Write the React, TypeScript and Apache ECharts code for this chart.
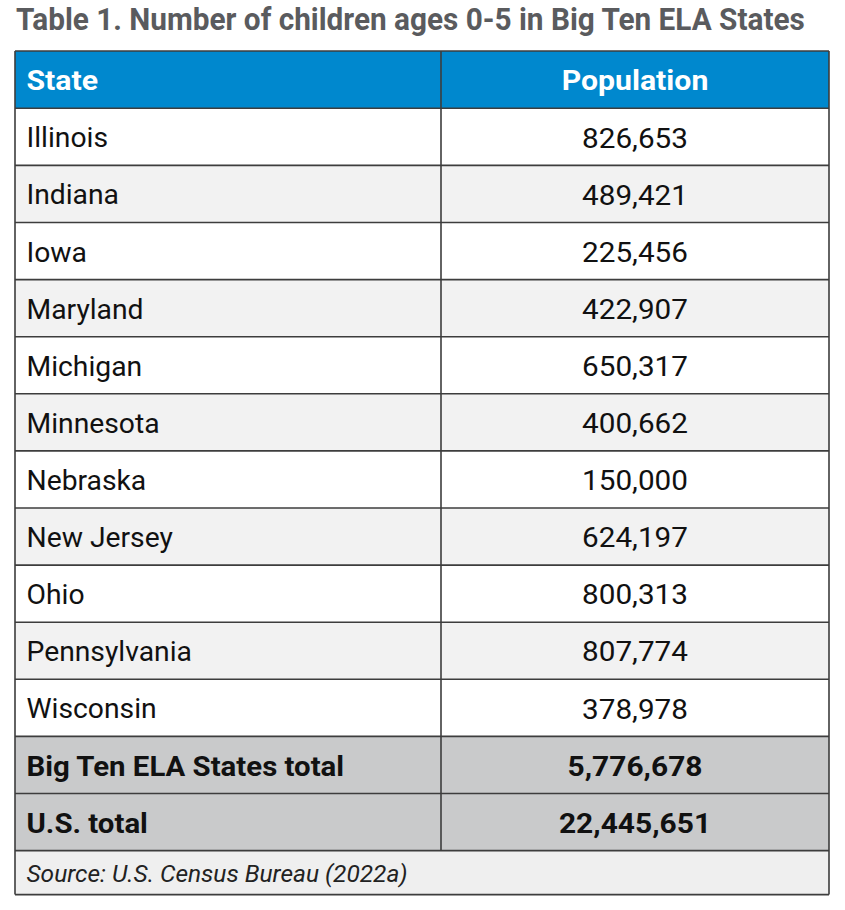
import React, { useEffect, useRef } from "react";
import * as echarts from "echarts";

const TITLE = "Table 1. Number of children ages 0-5 in Big Ten ELA States";
const HEADERS = ["State", "Population"];
const STATES = [
  "Illinois",
  "Indiana",
  "Iowa",
  "Maryland",
  "Michigan",
  "Minnesota",
  "Nebraska",
  "New Jersey",
  "Ohio",
  "Pennsylvania",
  "Wisconsin",
];
const POPULATIONS = [826653, 489421, 225456, 422907, 650317, 400662, 150000, 624197, 800313, 807774, 378978];
const TOTAL_LABELS = ["Big Ten ELA States total", "U.S. total"];
const TOTAL_VALUES = [5776678, 22445651];
const SOURCE = "Source: U.S. Census Bureau (2022a)";

const fmt = (v: number) => v.toLocaleString("en-US");

function measure(text: string, font: string): number {
  try {
    const c = document.createElement("canvas");
    const ctx = c.getContext("2d");
    if (!ctx) return 0;
    ctx.font = font;
    return ctx.measureText(text).width;
  } catch (e) {
    return 0;
  }
}

export default function App() {
  const ref = useRef<HTMLDivElement>(null);

  useEffect(() => {
    document.body.style.margin = "0";
    if (!ref.current) return;
    const chart = echarts.init(ref.current, undefined, { renderer: "svg" });

    const L = 15;
    const R = 829;
    const MID = 441;
    const TOP = 51;
    const HEAD_H = 57.3;
    const ROW_H = 57.1;
    const SRC_H = 44;
    const padX = 11.5;
    const colC = (MID + R) / 2;
    const font = "Roboto";
    const border = "#3d3d3d";
    const bw = 1.6;

    const elements: any[] = [];

    // title (condensed bold look: Roboto bold squeezed horizontally)
    const titleSize = 31;
    const titleW = measure(TITLE, `bold ${titleSize}px Roboto`);
    const titleTarget = 790;
    const titleScale = titleW > 0 ? titleTarget / titleW : 0.84;
    elements.push({
      type: "text",
      x: L + 1,
      y: 19,
      scaleX: titleScale,
      style: {
        text: TITLE,
        fontFamily: font,
        fontWeight: "bold",
        fontSize: titleSize,
        fill: "#5a5b5e",
        align: "left",
        verticalAlign: "middle",
      },
    });

    // header background
    elements.push({
      type: "rect",
      shape: { x: L, y: TOP, width: R - L, height: HEAD_H },
      style: { fill: "#0088ce" },
    });
    const headY = TOP + HEAD_H / 2 + 0.5;
    elements.push({
      type: "text",
      x: L + padX,
      y: headY,
      scaleX: 1.12,
      style: { text: HEADERS[0], fontFamily: font, fontWeight: "bold", fontSize: 27, fill: "#ffffff", align: "left", verticalAlign: "middle" },
    });
    elements.push({
      type: "text",
      x: colC,
      y: headY,
      scaleX: 1.12,
      style: { text: HEADERS[1], fontFamily: font, fontWeight: "bold", fontSize: 27, fill: "#ffffff", align: "center", verticalAlign: "middle" },
    });

    const rowsTop = TOP + HEAD_H;
    const rowLabels = [...STATES, ...TOTAL_LABELS];
    const rowValues = [...POPULATIONS, ...TOTAL_VALUES];
    rowLabels.forEach((lab, i) => {
      const y0 = rowsTop + i * ROW_H;
      const isTotal = i >= STATES.length;
      const fill = isTotal ? "#c9cacb" : i % 2 === 1 ? "#f2f2f2" : "#ffffff";
      elements.push({
        type: "rect",
        shape: { x: L, y: y0, width: R - L, height: ROW_H },
        style: { fill },
      });
      const ty = y0 + ROW_H / 2 + 1;
      elements.push({
        type: "text",
        x: L + padX,
        y: ty,
        scaleX: isTotal ? 1.05 : 1.01,
        style: {
          text: lab,
          fontFamily: font,
          fontWeight: isTotal ? "bold" : "normal",
          fontSize: 28,
          fill: "#111111",
          align: "left",
          verticalAlign: "middle",
        },
      });
      elements.push({
        type: "text",
        x: colC,
        y: ty,
        scaleX: isTotal ? 1.07 : 1.06,
        style: {
          text: fmt(rowValues[i]),
          fontFamily: font,
          fontWeight: isTotal ? "bold" : "normal",
          fontSize: 28,
          fill: "#111111",
          align: "center",
          verticalAlign: "middle",
        },
      });
    });

    const srcTop = rowsTop + rowLabels.length * ROW_H;
    elements.push({
      type: "rect",
      shape: { x: L, y: srcTop, width: R - L, height: SRC_H },
      style: { fill: "#efefef" },
    });
    elements.push({
      type: "text",
      x: L + padX,
      y: srcTop + SRC_H / 2 + 1,
      scaleX: 1.02,
      style: {
        text: SOURCE,
        fontFamily: font,
        fontStyle: "italic",
        fontSize: 24,
        fill: "#222222",
        align: "left",
        verticalAlign: "middle",
      },
    });

    // borders
    const lineStyle = { stroke: border, lineWidth: bw };
    const hy = [TOP, rowsTop];
    for (let i = 1; i <= rowLabels.length; i++) hy.push(rowsTop + i * ROW_H);
    hy.push(srcTop + SRC_H);
    hy.forEach((y) => {
      elements.push({ type: "line", shape: { x1: L, y1: y, x2: R, y2: y }, style: lineStyle });
    });
    elements.push({ type: "line", shape: { x1: L, y1: TOP, x2: L, y2: srcTop + SRC_H }, style: lineStyle });
    elements.push({ type: "line", shape: { x1: R, y1: TOP, x2: R, y2: srcTop + SRC_H }, style: lineStyle });
    elements.push({ type: "line", shape: { x1: MID, y1: TOP, x2: MID, y2: srcTop }, style: lineStyle });

    chart.setOption({
      animation: false,
      graphic: { elements },
    });

    return () => chart.dispose();
  }, []);

  return <div ref={ref} style={{ width: 845, height: 910 }} />;
}
